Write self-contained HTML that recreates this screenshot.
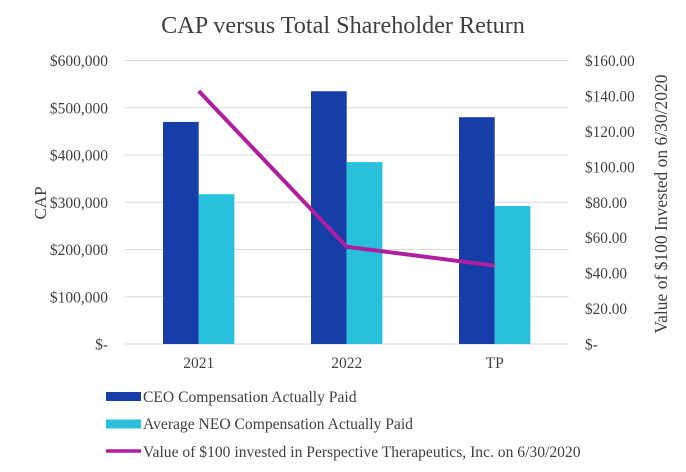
<!DOCTYPE html>
<html><head><meta charset="utf-8"><style>
body{margin:0;background:#fff;}
svg{display:block;font-family:"Liberation Serif",serif;}
</style></head><body>
<svg id="chart" width="686" height="472">
<text x="343" y="33" text-anchor="middle" font-size="24.2" fill="#404040">CAP versus Total Shareholder Return</text>
<g id="grid"></g><g id="bars"></g><g id="line"></g><g id="axes"></g>
<text transform="translate(46,203) rotate(-90)" text-anchor="middle" font-size="17" fill="#404040">CAP</text>
<text transform="translate(667,204) rotate(-90)" text-anchor="middle" font-size="17.5" fill="#404040">Value of $100 Invested on 6/30/2020</text>
<g>
<rect x="106" y="392" width="35" height="9" fill="#173ea8"/>
<text x="143" y="402" font-size="15.6" fill="#404040">CEO Compensation Actually Paid</text>
<rect x="106" y="419.5" width="35" height="9" fill="#29c0db"/>
<text x="143" y="429" font-size="15.6" fill="#404040">Average NEO Compensation Actually Paid</text>
<line x1="106" y1="451" x2="141" y2="451" stroke="#b01ea0" stroke-width="3.5"/>
<text x="143" y="457" font-size="15.6" fill="#404040">Value of $100 invested in Perspective Therapeutics, Inc. on 6/30/2020</text>
</g>
</svg>
<script>
const categories=["2021","2022","TP"];
const ceoValues=[470000,535000,480000];
const neoValues=[317000,385000,292000];
const tsrValues=[142.8,54.9,44.2];
const leftTicks=[0,100000,200000,300000,400000,500000,600000];
const leftTickLabels=["$-","$100,000","$200,000","$300,000","$400,000","$500,000","$600,000"];
const rightTicks=[0,20,40,60,80,100,120,140,160];
const rightTickLabels=["$-","$20.00","$40.00","$60.00","$80.00","$100.00","$120.00","$140.00","$160.00"];

const NS="http://www.w3.org/2000/svg";
const X0=124.7,X1=568.7,Y0=344,Y1=60.5;
const band=(X1-X0)/categories.length;
const xc=i=>X0+band*(i+0.5);
const yL=v=>Y0-(v/600000)*(Y0-Y1);
const yR=v=>Y0-(v/160)*(Y0-Y1);
const bw=35.7;
function mk(tag,attrs,parent){const e=document.createElementNS(NS,tag);for(const k in attrs)e.setAttribute(k,attrs[k]);document.getElementById(parent).appendChild(e);return e;}

leftTicks.forEach((t,i)=>{
  const g=mk("line",{x1:X0,x2:X1,y1:yL(t),y2:yL(t),stroke:"#d9d9d9","stroke-width":1},"grid");
  
  
  const l=mk("text",{x:108,y:yL(t)+5.5,"text-anchor":"end","font-size":15.5,fill:"#404040"},"axes");
  l.textContent=leftTickLabels[i];
  
  
});
rightTicks.forEach((t,i)=>{
  const l=mk("text",{x:585,y:yR(t)+5.5,"font-size":15.3,fill:"#404040"},"axes");
  l.textContent=rightTickLabels[i];
  
  
});
categories.forEach((c,i)=>{
  const l=mk("text",{x:xc(i),y:368,"text-anchor":"middle","font-size":15.5,fill:"#404040"},"axes");
  l.textContent=c;
  
  
  const b1=mk("rect",{x:xc(i)-bw,y:yL(ceoValues[i]),width:bw,height:Y0-yL(ceoValues[i]),fill:"#173ea8"},"bars");
  
  
  const b2=mk("rect",{x:xc(i),y:yL(neoValues[i]),width:bw,height:Y0-yL(neoValues[i]),fill:"#29c0db"},"bars");
  
  
});
const pts=tsrValues.map((v,i)=>xc(i)+","+yR(v)).join(" ");
const pl=mk("polyline",{points:pts,fill:"none",stroke:"#b01ea0","stroke-width":4,"stroke-linejoin":"round"},"line");


</script>
</body></html>
